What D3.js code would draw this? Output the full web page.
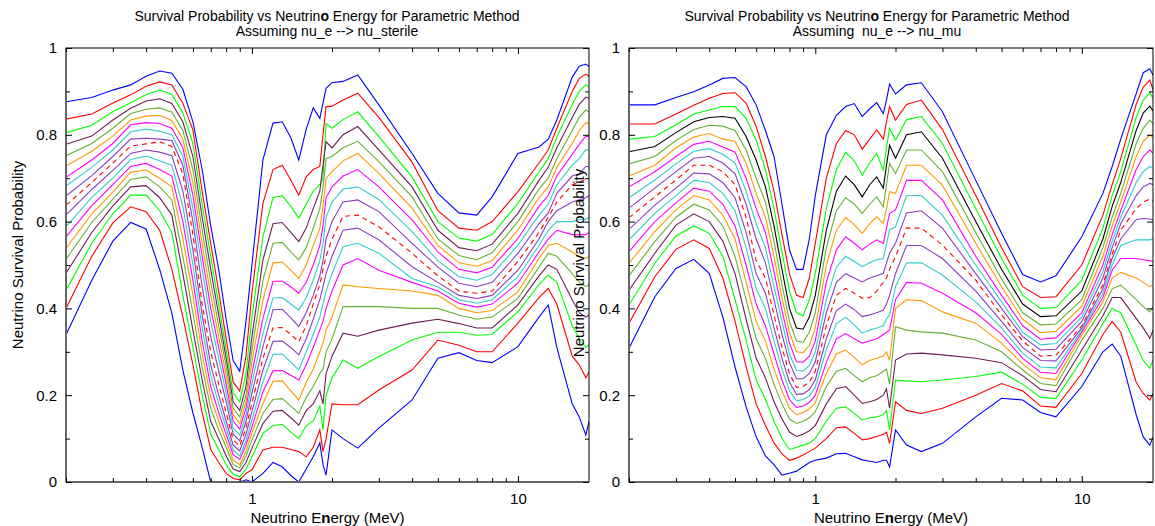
<!DOCTYPE html>
<html>
<head>
<meta charset="utf-8">
<script src="https://cdn.jsdelivr.net/npm/d3@7"></script>
<style>
body { margin: 0; background: #fff; }
text { font-family: "Liberation Sans", Arial, sans-serif; }
</style>
</head>
<body>
<svg width="1155" height="526"></svg>
<script>
// neutrino energy grid (MeV), shared by every curve
var energies = [0.2, 0.25, 0.3, 0.35, 0.4, 0.45, 0.5, 0.55, 0.6, 0.65, 0.7, 0.75, 0.8, 0.85, 0.9, 0.95,
  1.0, 1.1, 1.2, 1.3, 1.4, 1.5, 1.6, 1.7, 1.8, 1.85, 1.9, 2.0, 2.2, 2.5, 3, 4, 5, 6, 7, 8, 10, 12, 13, 14, 16, 17, 18, 18.5];

// nu_e --> nu_sterile, top curve first, dashed one is index 9
var sterileCurves = [
  [.876,.886,.903,.915,.935,.947,.942,.905,.83,.72,.59,.49,.375,.28,.255,.37,.50,.742,.827,.83,.793,.742,.813,.862,.838,.873,.907,.92,.923,.938,.869,.757,.665,.62,.615,.657,.757,.772,.79,.834,.933,.958,.963,.957],
  [.836,.848,.873,.892,.912,.922,.915,.873,.811,.67,.55,.44,.33,.23,.21,.29,.435,.642,.72,.73,.696,.661,.703,.72,.727,.80,.865,.866,.88,.896,.84,.737,.625,.585,.58,.60,.669,.735,.765,.815,.90,.93,.94,.935],
  [.805,.822,.853,.874,.893,.903,.893,.85,.78,.64,.52,.41,.305,.205,.185,.25,.381,.565,.655,.66,.635,.608,.64,.67,.685,.70,.826,.815,.835,.853,.796,.703,.60,.562,.555,.57,.642,.715,.745,.795,.87,.90,.915,.911],
  [.778,.797,.834,.861,.878,.883,.872,.83,.75,.61,.49,.385,.285,.185,.165,.22,.335,.512,.595,.598,.575,.554,.585,.63,.67,.73,.784,.77,.80,.819,.765,.68,.58,.54,.533,.548,.619,.695,.725,.77,.84,.87,.887,.884],
  [.752,.78,.815,.849,.859,.862,.852,.81,.72,.58,.46,.36,.265,.17,.15,.20,.304,.465,.55,.552,.53,.512,.54,.585,.63,.68,.745,.75,.77,.785,.738,.657,.56,.522,.512,.528,.60,.675,.70,.745,.81,.84,.857,.853],
  [.728,.762,.797,.834,.843,.845,.833,.79,.69,.55,.43,.335,.245,.155,.135,.185,.277,.419,.505,.507,.488,.469,.50,.545,.585,.635,.70,.715,.74,.757,.711,.631,.545,.505,.497,.51,.581,.655,.68,.725,.78,.81,.828,.826],
  [.702,.742,.78,.823,.828,.826,.815,.77,.66,.52,.40,.31,.225,.14,.122,.17,.25,.377,.462,.463,.45,.435,.46,.50,.545,.59,.655,.68,.705,.72,.68,.604,.53,.49,.482,.495,.561,.635,.66,.705,.755,.778,.797,.796],
  [.682,.725,.765,.807,.813,.808,.80,.75,.63,.49,.37,.285,.205,.125,.108,.155,.228,.343,.424,.425,.41,.396,.425,.465,.51,.55,.61,.645,.675,.68,.651,.577,.51,.473,.465,.478,.546,.615,.64,.685,.73,.745,.766,.765],
  [.659,.706,.75,.79,.792,.79,.787,.73,.60,.45,.335,.255,.185,.11,.095,.14,.205,.312,.397,.398,.378,.358,.39,.43,.475,.51,.56,.60,.645,.65,.623,.55,.495,.458,.45,.46,.527,.595,.62,.665,.705,.71,.727,.727],
  [.638,.69,.735,.774,.779,.784,.773,.71,.57,.41,.30,.225,.16,.097,.083,.125,.182,.285,.355,.356,.34,.323,.36,.41,.455,.49,.52,.56,.612,.615,.588,.527,.475,.44,.435,.44,.508,.575,.61,.645,.685,.69,.698,.70],
  [.615,.674,.718,.757,.765,.76,.752,.67,.535,.385,.27,.20,.14,.085,.072,.11,.162,.258,.324,.325,.31,.293,.33,.375,.42,.45,.48,.52,.58,.585,.558,.496,.46,.43,.423,.43,.488,.56,.60,.625,.645,.65,.655,.66],
  [.588,.656,.70,.743,.751,.74,.73,.635,.50,.355,.245,.18,.125,.073,.06,.095,.143,.231,.294,.295,.276,.258,.30,.34,.38,.41,.44,.48,.542,.55,.527,.469,.45,.42,.412,.42,.473,.545,.58,.60,.60,.605,.605,.61],
  [.565,.637,.685,.727,.734,.72,.705,.60,.465,.325,.22,.16,.11,.063,.052,.085,.127,.208,.256,.257,.246,.235,.27,.31,.35,.37,.40,.44,.50,.515,.488,.46,.44,.412,.403,.41,.458,.53,.56,.58,.57,.57,.57,.575],
  [.538,.618,.668,.714,.719,.70,.68,.56,.43,.295,.195,.14,.095,.05,.04,.07,.113,.181,.232,.233,.21,.189,.23,.26,.30,.32,.35,.38,.454,.45,.446,.44,.43,.40,.39,.395,.438,.515,.545,.55,.53,.52,.515,.52],
  [.513,.598,.652,.697,.703,.68,.65,.52,.39,.265,.17,.12,.08,.04,.033,.06,.097,.158,.19,.192,.175,.158,.195,.22,.25,.26,.30,.33,.404,.404,.404,.40,.40,.385,.375,.38,.423,.495,.527,.52,.48,.46,.45,.455],
  [.481,.575,.636,.68,.683,.655,.615,.48,.35,.235,.14,.10,.06,.03,.024,.045,.078,.135,.163,.165,.148,.131,.165,.18,.21,.18,.25,.29,.343,.336,.35,.366,.375,.365,.355,.355,.408,.475,.50,.49,.42,.39,.38,.385],
  [.442,.55,.618,.661,.661,.625,.575,.43,.31,.20,.11,.075,.04,.018,.012,.03,.058,.112,.13,.133,.115,.10,.13,.14,.175,.12,.20,.24,.281,.262,.289,.327,.345,.345,.338,.34,.392,.455,.477,.46,.36,.33,.31,.316],
  [.40,.52,.597,.634,.623,.58,.49,.38,.27,.16,.075,.045,.02,.008,.005,.02,.028,.074,.08,.08,.075,.07,.058,.08,.12,.07,.10,.18,.178,.178,.212,.258,.327,.315,.30,.30,.366,.425,.446,.41,.29,.27,.24,.254],
  [.339,.465,.555,.598,.583,.49,.389,.258,.159,.08,0,0,0,0,0,.005,0,.02,.045,.035,.015,0,.03,.058,.09,.04,.016,.12,.10,.078,.124,.189,.285,.298,.28,.275,.312,.38,.408,.31,.18,.15,.108,.139]
];

// nu_e --> nu_mu, top curve first, dashed one is index 9
var muCurves = [
  [.869,.869,.886,.899,.915,.93,.932,.911,.869,.81,.75,.64,.535,.49,.49,.56,.66,.80,.845,.865,.872,.842,.86,.874,.849,.88,.917,.894,.915,.92,.853,.695,.573,.478,.461,.475,.565,.665,.727,.79,.895,.943,.952,.938],
  [.825,.825,.848,.868,.884,.895,.897,.873,.819,.75,.67,.57,.48,.43,.425,.47,.55,.70,.78,.81,.80,.767,.79,.811,.79,.83,.865,.834,.87,.88,.812,.66,.54,.45,.425,.427,.50,.615,.685,.745,.87,.91,.926,.903],
  [.79,.796,.823,.848,.857,.865,.865,.838,.788,.72,.63,.53,.44,.39,.383,.42,.48,.63,.72,.76,.74,.707,.735,.757,.719,.77,.815,.788,.835,.842,.78,.63,.515,.43,.40,.402,.465,.585,.66,.715,.84,.88,.897,.884],
  [.761,.773,.805,.83,.84,.842,.838,.796,.742,.68,.59,.49,.40,.355,.352,.38,.43,.58,.67,.705,.685,.657,.685,.703,.677,.73,.776,.746,.80,.807,.746,.60,.49,.41,.381,.383,.44,.56,.635,.69,.81,.85,.866,.855],
  [.733,.75,.787,.812,.822,.82,.81,.765,.70,.645,.555,.455,.37,.325,.322,.345,.39,.54,.625,.655,.64,.619,.64,.657,.634,.685,.734,.711,.765,.765,.715,.575,.468,.39,.362,.364,.42,.54,.61,.665,.78,.815,.834,.825],
  [.705,.73,.77,.795,.803,.79,.785,.735,.665,.61,.52,.425,.345,.30,.298,.315,.355,.50,.58,.61,.593,.573,.595,.611,.596,.63,.669,.665,.73,.73,.684,.55,.45,.375,.344,.347,.405,.52,.59,.645,.75,.785,.80,.793],
  [.68,.715,.75,.778,.785,.772,.76,.70,.63,.575,.485,.395,.32,.277,.276,.29,.325,.46,.535,.565,.55,.535,.548,.558,.55,.585,.619,.627,.695,.695,.65,.52,.43,.36,.329,.332,.39,.50,.57,.625,.72,.75,.765,.758],
  [.655,.696,.733,.762,.768,.755,.735,.67,.595,.54,.45,.37,.295,.257,.256,.268,.30,.42,.495,.52,.508,.496,.505,.512,.515,.548,.581,.588,.66,.66,.615,.50,.415,.345,.316,.319,.38,.485,.555,.61,.69,.715,.727,.723],
  [.631,.677,.715,.746,.75,.735,.71,.64,.56,.505,.42,.34,.275,.238,.238,.25,.277,.39,.46,.48,.47,.461,.47,.475,.481,.505,.527,.55,.62,.625,.585,.48,.40,.335,.304,.306,.37,.47,.54,.595,.66,.68,.688,.685],
  [.609,.657,.696,.73,.73,.715,.685,.61,.51,.47,.385,.31,.25,.218,.22,.23,.255,.36,.43,.446,.435,.423,.425,.44,.46,.47,.49,.519,.585,.585,.546,.465,.385,.325,.29,.292,.36,.455,.525,.58,.63,.645,.652,.647],
  [.582,.638,.677,.712,.71,.69,.655,.575,.48,.435,.355,.285,.23,.202,.203,.213,.235,.33,.395,.41,.397,.381,.385,.39,.396,.41,.43,.48,.545,.545,.515,.44,.37,.31,.28,.279,.355,.445,.515,.56,.605,.607,.606,.604],
  [.558,.619,.66,.695,.69,.665,.625,.54,.445,.40,.325,.26,.21,.187,.19,.198,.218,.305,.365,.38,.362,.343,.35,.355,.36,.375,.385,.45,.505,.505,.477,.415,.355,.297,.265,.263,.35,.435,.50,.545,.558,.558,.558,.56],
  [.531,.60,.643,.677,.67,.64,.59,.50,.41,.36,.295,.235,.19,.172,.175,.183,.20,.275,.33,.342,.33,.32,.325,.33,.34,.345,.35,.42,.46,.458,.435,.39,.34,.285,.253,.25,.345,.425,.488,.515,.515,.512,.51,.508],
  [.504,.577,.627,.66,.65,.615,.56,.46,.37,.325,.26,.21,.17,.155,.16,.168,.183,.25,.295,.304,.287,.27,.28,.285,.29,.30,.28,.40,.42,.418,.392,.366,.32,.272,.24,.236,.338,.415,.47,.483,.47,.46,.45,.454],
  [.475,.554,.61,.64,.627,.59,.52,.42,.33,.285,.225,.18,.145,.135,.14,.148,.162,.22,.255,.262,.245,.231,.24,.245,.255,.26,.225,.358,.35,.346,.343,.327,.30,.258,.227,.222,.327,.40,.445,.454,.42,.404,.392,.404],
  [.442,.527,.592,.618,.60,.555,.48,.375,.285,.24,.185,.145,.115,.105,.11,.118,.13,.18,.215,.22,.20,.181,.185,.19,.20,.215,.17,.281,.295,.297,.293,.285,.275,.245,.213,.208,.304,.383,.425,.425,.377,.355,.331,.35],
  [.408,.504,.567,.59,.573,.52,.42,.327,.235,.19,.14,.10,.075,.08,.085,.09,.10,.14,.17,.173,.158,.143,.148,.15,.155,.165,.12,.235,.233,.231,.235,.243,.253,.225,.195,.192,.281,.365,.40,.39,.315,.28,.262,.281],
  [.366,.473,.536,.558,.538,.47,.37,.266,.18,.13,.09,.065,.05,.055,.062,.07,.078,.10,.125,.127,.112,.097,.10,.105,.11,.115,.089,.185,.165,.158,.17,.20,.227,.21,.175,.172,.25,.34,.37,.345,.23,.204,.189,.204],
  [.308,.427,.492,.513,.481,.38,.265,.173,.104,.06,.04,.016,.02,.025,.035,.045,.05,.055,.065,.066,.058,.051,.048,.045,.05,.05,.035,.12,.085,.07,.089,.15,.193,.189,.16,.15,.22,.30,.318,.29,.155,.104,.085,.104]
];

var sterileColors = ["#0000ff", "#ff0000", "#00ff00", "#6b1f55", "#66b033", "#ff9900", "#ff00ff", "#33cccc", "#8a3fc0", "#ff0000",
  "#8a3fc0", "#33cccc", "#ff00ff", "#ff9900", "#66b033", "#6b1f55", "#00ff00", "#ff0000", "#0000ff"];
var muColors = ["#0000ff", "#ff0000", "#00ff00", "#000000", "#66b033", "#ff9900", "#ff00ff", "#33cccc", "#8a3fc0", "#ff0000",
  "#8a3fc0", "#33cccc", "#ff00ff", "#ff9900", "#66b033", "#6b1f55", "#00ff00", "#ff0000", "#0000ff"];

var yMajor = [0, 0.2, 0.4, 0.6, 0.8, 1];
var yMinor = [0.1, 0.3, 0.5, 0.7, 0.9];
var xMajor = [1, 10];
var xMinor = [0.2, 0.3, 0.4, 0.5, 0.6, 0.7, 0.8, 0.9, 2, 3, 4, 5, 6, 7, 8, 9];
var subtitles = ["Assuming nu_e --> nu_sterile", "Assuming  nu_e --> nu_mu"];

var svg = d3.select("svg"),
    yTop = 48, yBottom = 482,
    font = "Liberation Sans, Arial, sans-serif";

var panels = [
  {x0: 66, x1: 589, curves: sterileCurves, colors: sterileColors, titleX: 327, labelX: 17, labelY: 255},
  {x0: 629, x1: 1153, curves: muCurves, colors: muColors, titleX: 877, labelX: 578, labelY: 263}
];

var y = d3.scaleLinear().domain([0, 1]).range([yBottom, yTop]);

function styleAxis(a) {
  a.select(".domain").remove();
  a.selectAll("line").attr("stroke", "#000");
  a.selectAll("text").attr("font-family", font).attr("font-size", 15).attr("fill", "#000");
}

panels.forEach(function(p, i) {
  var x = d3.scaleLog().domain([0.2, 18.5]).range([p.x0, p.x1]);
  var g = svg.append("g");

  g.append("clipPath").attr("id", "clip" + i)
    .append("rect").attr("x", p.x0).attr("y", yTop).attr("width", p.x1 - p.x0).attr("height", yBottom - yTop);

  var line = d3.line()
    .x(function(d, j) { return x(energies[j]); })
    .y(function(d) { return y(d); });

  g.append("g").attr("clip-path", "url(#clip" + i + ")")
    .selectAll("path")
    .data(p.curves)
    .enter().append("path")
    .attr("d", line)
    .attr("fill", "none")
    .attr("stroke", function(d, k) { return p.colors[k]; })
    .attr("stroke-width", 1.1)
    .attr("stroke-dasharray", function(d, k) { return k === 9 ? "5,4" : null; });

  // frame
  g.append("rect").attr("x", p.x0).attr("y", yTop).attr("width", p.x1 - p.x0).attr("height", yBottom - yTop)
    .attr("fill", "none").attr("stroke", "#000").attr("stroke-width", 1);
  g.append("line").attr("x1", p.x0).attr("x2", p.x0).attr("y1", yTop).attr("y2", yBottom)
    .attr("stroke", "#666").attr("stroke-width", 2);
  g.append("line").attr("x1", p.x0).attr("x2", p.x1).attr("y1", yBottom).attr("y2", yBottom)
    .attr("stroke", "#666").attr("stroke-width", 2);

  // x ticks, bottom and top, pointing inward
  g.append("g").attr("transform", "translate(0," + yBottom + ")")
    .call(d3.axisBottom(x).tickValues(xMajor).tickSize(-6).tickPadding(11).tickFormat(d3.format("d")))
    .call(styleAxis);
  g.append("g").attr("transform", "translate(0," + yBottom + ")")
    .call(d3.axisBottom(x).tickValues(xMinor).tickSize(-4).tickFormat(""))
    .call(styleAxis);
  g.append("g").attr("transform", "translate(0," + yTop + ")")
    .call(d3.axisTop(x).tickValues(xMajor).tickSize(-6).tickFormat(""))
    .call(styleAxis);
  g.append("g").attr("transform", "translate(0," + yTop + ")")
    .call(d3.axisTop(x).tickValues(xMinor).tickSize(-4).tickFormat(""))
    .call(styleAxis);

  // y ticks, left with labels and right
  g.append("g").attr("transform", "translate(" + p.x0 + ",0)")
    .call(d3.axisLeft(y).tickValues(yMajor).tickSize(-6).tickPadding(9).tickFormat(d3.format("")))
    .call(styleAxis);
  g.append("g").attr("transform", "translate(" + p.x0 + ",0)")
    .call(d3.axisLeft(y).tickValues(yMinor).tickSize(-4).tickFormat(""))
    .call(styleAxis);
  g.append("g").attr("transform", "translate(" + p.x1 + ",0)")
    .call(d3.axisRight(y).tickValues(yMajor).tickSize(-6).tickFormat(""))
    .call(styleAxis);
  g.append("g").attr("transform", "translate(" + p.x1 + ",0)")
    .call(d3.axisRight(y).tickValues(yMinor).tickSize(-4).tickFormat(""))
    .call(styleAxis);

  // title, two lines
  var t = g.append("text").attr("x", p.titleX).attr("y", 21).attr("text-anchor", "middle")
    .attr("font-size", 14).attr("font-family", font);
  t.append("tspan").text("Survival Probability vs Neutrin");
  t.append("tspan").attr("font-weight", "bold").text("o");
  t.append("tspan").text(" Energy for Parametric Method");
  g.append("text").attr("x", p.titleX).attr("y", 36).attr("text-anchor", "middle")
    .attr("font-size", 14).attr("font-family", font).style("white-space", "pre")
    .text(subtitles[i]);

  // x label
  var xl = g.append("text").attr("x", (p.x0 + p.x1) / 2).attr("y", 523).attr("text-anchor", "middle")
    .attr("font-size", 15).attr("font-family", font);
  xl.append("tspan").text("Neutrino E");
  xl.append("tspan").attr("font-weight", "bold").text("n");
  xl.append("tspan").text("ergy (MeV)");
});

// y labels go on top so the right one shows over the left plot
panels.forEach(function(p) {
  svg.append("text")
    .attr("transform", "translate(" + p.labelX + "," + p.labelY + ") rotate(-90)")
    .attr("text-anchor", "middle").attr("dominant-baseline", "central")
    .attr("font-size", 15).attr("font-family", font)
    .text("Neutrino Survival Probability");
});
</script>
</body>
</html>
